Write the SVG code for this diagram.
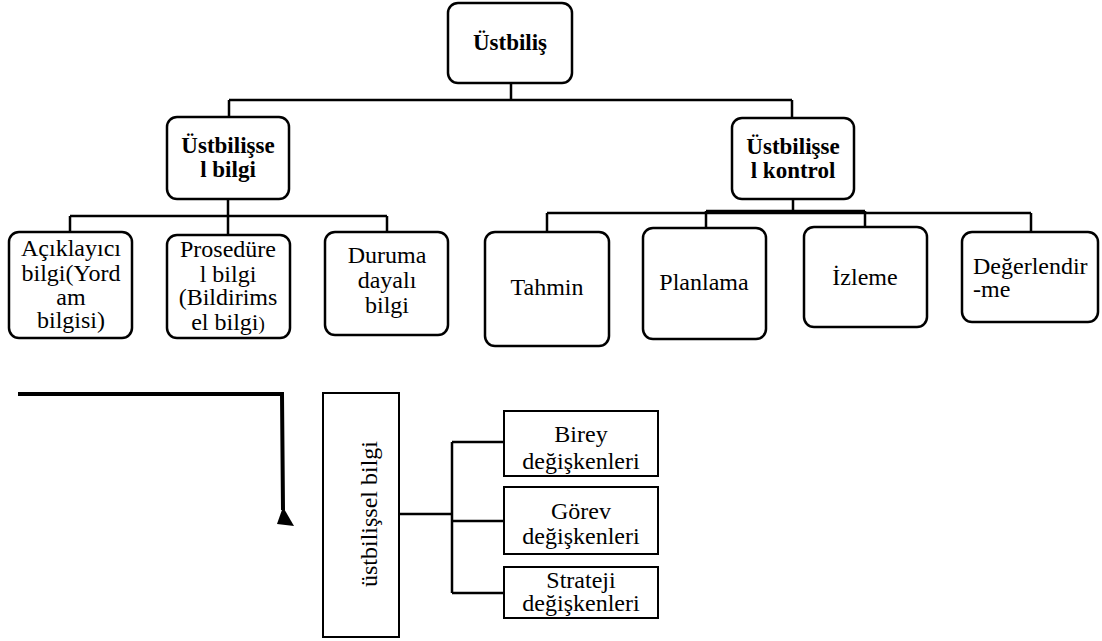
<svg xmlns="http://www.w3.org/2000/svg" width="1102" height="641" viewBox="0 0 1102 641">
  <style>
    .rbox { fill: #ffffff; stroke: #000000; stroke-width: 2.5; }
    .sbox { fill: #ffffff; stroke: #000000; stroke-width: 2; }
    .link { fill: none; stroke: #000000; stroke-width: 2.5; }
    .bold { font-family: "Liberation Serif", "Times New Roman", serif; font-weight: bold; font-size: 23px; fill: #000000; text-anchor: middle; }
    .reg { font-family: "Liberation Serif", "Times New Roman", serif; font-size: 24px; fill: #000000; text-anchor: middle; }
    .left { text-anchor: start; }
  </style>
  <rect width="1102" height="641" fill="#ffffff"/>

  <!-- tree connectors -->
  <g id="connectors">
    <path class="link" d="M511 83 V100 M229 100 H792 M229 100 V117 M792 100 V118"/>
    <path class="link" d="M228 199 V216 M70 216 H387 M70 216 V232 M228 216 V235 M387 216 V232"/>
    <path class="link" d="M793 199 V213 M547 213 H1031 M706 211 H865 M547 213 V232 M706 211 V228 M865 211 V227 M1031 213 V232"/>
    <!-- lower branch connectors -->
    <path class="link" d="M399 514 H452 M452 442 V593 M452 442 H504 M452 521 H504 M452 593 H504"/>
    <!-- heavy elbow arrow -->
    <path fill="none" stroke="#000000" stroke-width="4" d="M18 394 H282 L283 510"/>
    <polygon points="283,507 277,524 294,526" fill="#000000"/>
  </g>

  <!-- root -->
  <g id="ustbilis">
    <rect class="rbox" x="448" y="3" width="124" height="80" rx="10"/>
    <text class="bold" x="510" y="50">Üstbiliş</text>
  </g>

  <!-- level 1 -->
  <g id="ustbilissel-bilgi">
    <rect class="rbox" x="167" y="117" width="122" height="82" rx="10"/>
    <text class="bold" x="228" y="153">Üstbilişse</text>
    <text class="bold" x="228" y="177">l bilgi</text>
  </g>
  <g id="ustbilissel-kontrol">
    <rect class="rbox" x="732" y="118" width="122" height="81" rx="10"/>
    <text class="bold" x="793" y="154">Üstbilişse</text>
    <text class="bold" x="793" y="178">l kontrol</text>
  </g>

  <!-- knowledge children -->
  <g id="aciklayici">
    <rect class="rbox" x="9" y="232" width="123" height="106" rx="10"/>
    <text class="reg" x="71" y="256">Açıklayıcı</text>
    <text class="reg" x="71" y="281">bilgi(Yord</text>
    <text class="reg" x="71" y="305">am</text>
    <text class="reg" x="71" y="328">bilgisi)</text>
  </g>
  <g id="prosedurel">
    <rect class="rbox" x="167" y="235" width="123" height="103" rx="10"/>
    <text class="reg" x="228" y="257">Prosedüre</text>
    <text class="reg" x="228" y="282">l bilgi</text>
    <text class="reg" x="228" y="305">(Bildirims</text>
    <text class="reg" x="228" y="330">el bilgi<tspan font-size="19">)</tspan></text>
  </g>
  <g id="duruma">
    <rect class="rbox" x="325" y="232" width="123" height="103" rx="10"/>
    <text class="reg" x="387" y="263">Duruma</text>
    <text class="reg" x="387" y="288">dayalı</text>
    <text class="reg" x="387" y="313">bilgi</text>
  </g>

  <!-- control children -->
  <g id="tahmin">
    <rect class="rbox" x="485" y="232" width="124" height="114" rx="10"/>
    <text class="reg" x="547" y="295">Tahmin</text>
  </g>
  <g id="planlama">
    <rect class="rbox" x="643" y="228" width="123" height="111" rx="10"/>
    <text class="reg" x="704" y="290">Planlama</text>
  </g>
  <g id="izleme">
    <rect class="rbox" x="804" y="227" width="123" height="100" rx="10"/>
    <text class="reg" x="865" y="285">İzleme</text>
  </g>
  <g id="degerlendirme">
    <rect class="rbox" x="962" y="232" width="136" height="90" rx="10"/>
    <text class="reg left" x="973" y="274">Değerlendir</text>
    <text class="reg left" x="973" y="297">-me</text>
  </g>

  <!-- lower section -->
  <g id="ustbilissel-bilgi-dikey">
    <rect class="sbox" x="323" y="393" width="76" height="244"/>
    <text class="reg" transform="translate(377 514) rotate(-90)">üstbilişsel bilgi</text>
  </g>
  <g id="birey">
    <rect class="sbox" x="504" y="411" width="154" height="65"/>
    <text class="reg" x="581" y="442">Birey</text>
    <text class="reg" x="581" y="469">değişkenleri</text>
  </g>
  <g id="gorev">
    <rect class="sbox" x="504" y="487" width="154" height="67"/>
    <text class="reg" x="581" y="519">Görev</text>
    <text class="reg" x="581" y="544">değişkenleri</text>
  </g>
  <g id="strateji">
    <rect class="sbox" x="504" y="567" width="154" height="51"/>
    <text class="reg" x="581" y="588">Strateji</text>
    <text class="reg" x="581" y="611">değişkenleri</text>
  </g>
</svg>
